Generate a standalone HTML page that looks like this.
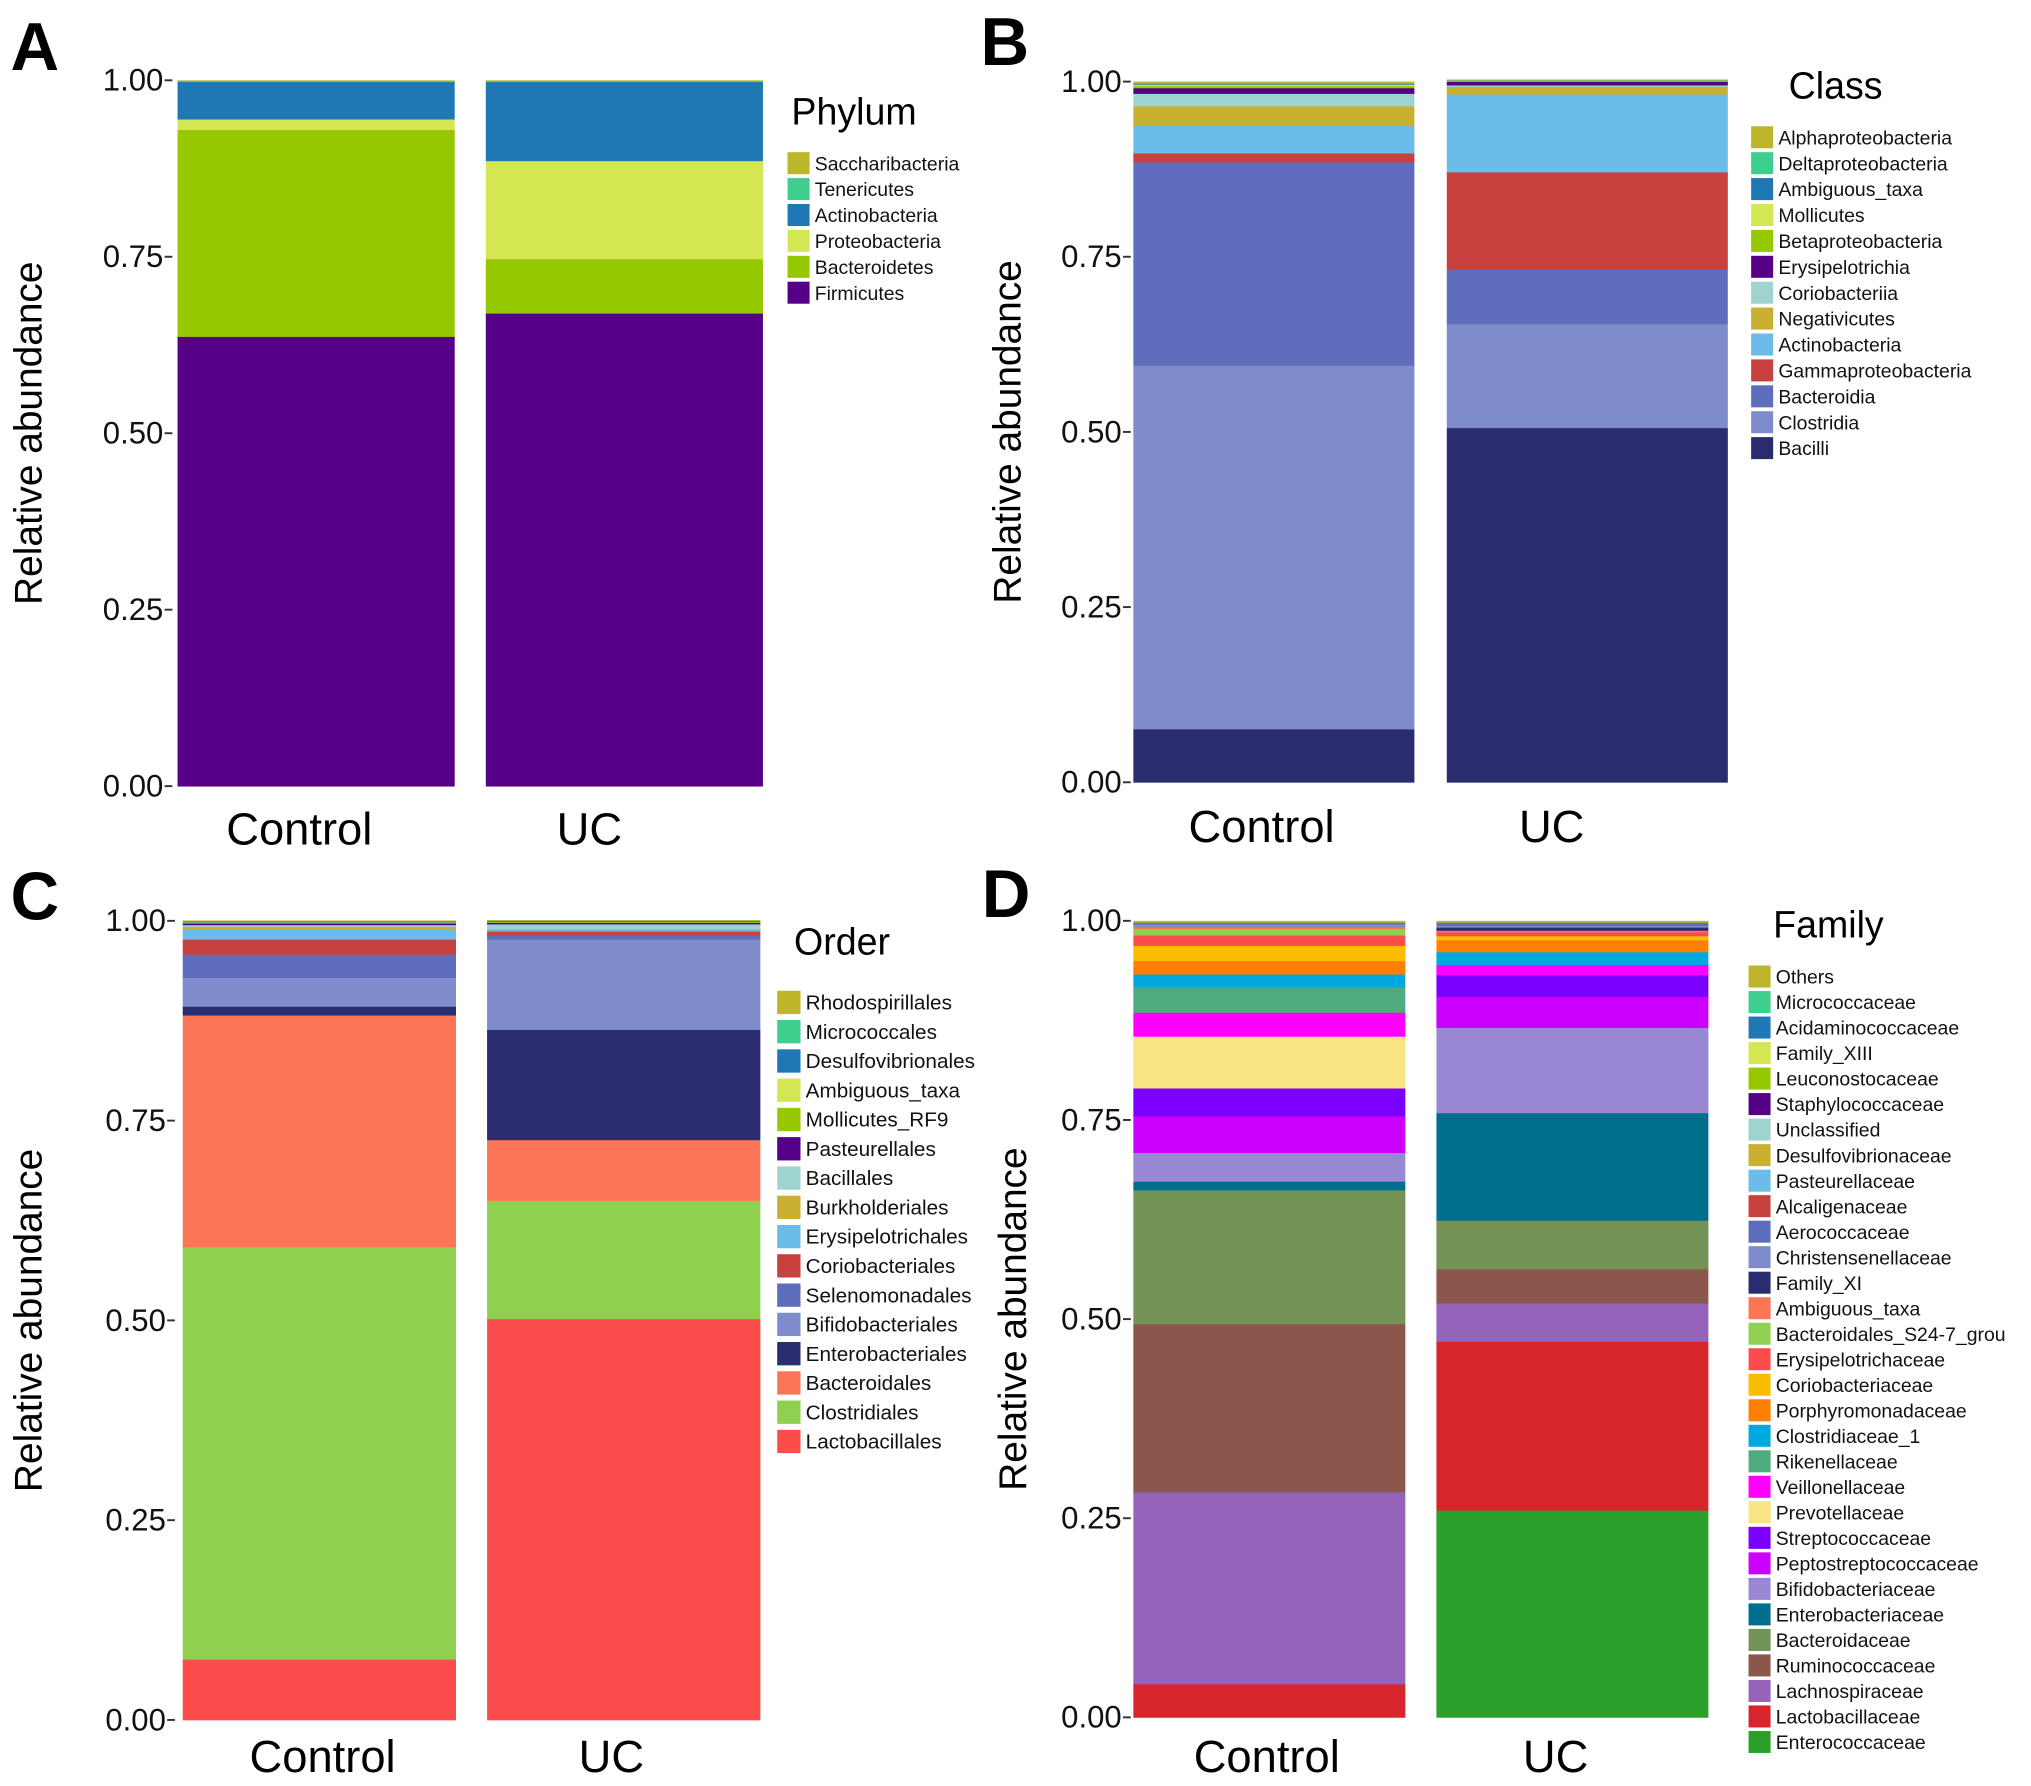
<!DOCTYPE html>
<html><head><meta charset="utf-8"><style>html,body{margin:0;padding:0;background:#fff}svg{display:block}text{font-family:"Liberation Sans",sans-serif}</style></head>
<body>
<svg id="fig" xmlns="http://www.w3.org/2000/svg" width="2031" height="1786" viewBox="0 0 1568 1379">
<rect width="1568" height="1379" fill="#fff"/>
</svg>
<script>
// ---- Panel A: Phylum ----
const phylumNames = ["Saccharibacteria","Tenericutes","Actinobacteria","Proteobacteria","Bacteroidetes","Firmicutes"];
const phylumControl = [0.001,0.001,0.053,0.015,0.293,0.637];
const phylumUC = [0.001,0.001,0.112,0.139,0.077,0.670];
const phylumColors = ["#bdb52a","#3ecf8e","#1f78b4","#d4e651","#96c800","#560087"];
// ---- Panel B: Class ----
const classNames = ["Alphaproteobacteria","Deltaproteobacteria","Ambiguous_taxa","Mollicutes","Betaproteobacteria","Erysipelotrichia","Coriobacteriia","Negativicutes","Actinobacteria","Gammaproteobacteria","Bacteroidia","Clostridia","Bacilli"];
const classControl = [0.002,0.001,0.001,0.002,0.003,0.008,0.018,0.028,0.039,0.013,0.290,0.519,0.076];
const classUC = [0.001,0.0005,0.0005,0.0005,0.0005,0.005,0.002,0.011,0.111,0.139,0.078,0.148,0.506];
const classColors = ["#bdb52a","#3ecf8e","#1f78b4","#d4e651","#96c800","#560087","#9ed3d0","#c9b030","#6cbcea","#c7413f","#5e6ebd","#7e8ccb","#2a2c70"];
// ---- Panel C: Order ----
const orderNames = ["Rhodospirillales","Micrococcales","Desulfovibrionales","Ambiguous_taxa","Mollicutes_RF9","Pasteurellales","Bacillales","Burkholderiales","Erysipelotrichales","Coriobacteriales","Selenomonadales","Bifidobacteriales","Enterobacteriales","Bacteroidales","Clostridiales","Lactobacillales"];
const orderControl = [0.0005,0.0005,0.001,0.0005,0.001,0.002,0.002,0.003,0.013,0.019,0.029,0.036,0.011,0.290,0.516,0.076];
const orderUC = [0.0005,0.0005,0.001,0.0005,0.0005,0.002,0.006,0.001,0.002,0.005,0.005,0.113,0.138,0.076,0.148,0.502];
const orderColors = ["#bdb52a","#3ecf8e","#1f78b4","#d4e651","#96c800","#560087","#9ed3d0","#c9b030","#6cbcea","#c7413f","#5e6ebd","#7e8ccb","#2a2c70","#fd7557","#8fd050","#fd4c4c"];
// ---- Panel D: Family ----
const familyNames = ["Others","Micrococcaceae","Acidaminococcaceae","Family_XIII","Leuconostocaceae","Staphylococcaceae","Unclassified","Desulfovibrionaceae","Pasteurellaceae","Alcaligenaceae","Aerococcaceae","Christensenellaceae","Family_XI","Ambiguous_taxa","Bacteroidales_S24-7_grou","Erysipelotrichaceae","Coriobacteriaceae","Porphyromonadaceae","Clostridiaceae_1","Rikenellaceae","Veillonellaceae","Prevotellaceae","Streptococcaceae","Peptostreptococcaceae","Bifidobacteriaceae","Enterobacteriaceae","Bacteroidaceae","Ruminococcaceae","Lachnospiraceae","Lactobacillaceae","Enterococcaceae"];
const familyControl = [0.002,0,0,0,0,0,0,0,0,0,0.002,0.004,0,0.002,0.008,0.013,0.019,0.017,0.016,0.032,0.030,0.065,0.035,0.046,0.036,0.011,0.168,0.211,0.241,0.042,0];
const familyUC = [0.002,0,0,0,0,0,0,0,0,0,0.004,0.002,0.004,0.002,0,0.005,0.005,0.015,0.016,0,0.013,0,0.027,0.039,0.107,0.135,0.061,0.043,0.048,0.212,0.260];
const familyColors = ["#bdb52a","#3ecf8e","#1f78b4","#d4e651","#96c800","#560087","#9ed3d0","#c9b030","#6cbcea","#c7413f","#5e6ebd","#7e8ccb","#2a2c70","#fd7557","#8fd050","#fd4c4c","#fbbd00","#ff8000","#00a8e0","#50aa80","#ff00ff","#fae383","#7a00ff","#cc00ff","#9b88d4","#006f8e","#739357","#8b574d","#9563ba","#d6262b","#2aa02b"];
const tickValues = [0,0.25,0.5,0.75,1];
const tickLabels = ["0.00","0.25","0.50","0.75","1.00"];
const groupLabels = ["Control","UC"];

const NS="http://www.w3.org/2000/svg";
const svg=document.getElementById('fig');
function mk(tag,attrs,parent){const e=document.createElementNS(NS,tag);for(const k in attrs)e.setAttribute(k,attrs[k]);(parent||svg).appendChild(e);return e;}

function panel(p){
  const g=mk('g',{});
  
  
  const yS=v=>p.y0-(p.y0-p.y1)*v;
  const lt=mk('text',{x:p.letterX,y:p.letterY,'font-size':52,'font-weight':'bold',fill:'#000'},g);
  lt.textContent=p.id;
  
  
  const yt=mk('text',{x:0,y:0,'font-size':30,fill:'#000','text-anchor':'middle',transform:`translate(${p.ytX},${(p.y0+p.y1)/2}) rotate(-90)`},g);
  yt.textContent='Relative abundance';
  
  
  tickValues.forEach((v,i)=>{
    const t=mk('text',{x:p.tickX,y:yS(v)+8,'font-size':24,fill:'#111','text-anchor':'end'},g);
    t.textContent=tickLabels[i];
    
    
    const l=mk('line',{x1:p.tickX+1,x2:p.tickX+7,y1:yS(v),y2:yS(v),stroke:'#333','stroke-width':1.5},g);
    
    
  });
  [p.control,p.uc].forEach((vals,bi)=>{
    const bx=p.barX[bi];
    let cum=0;
    for(let i=vals.length-1;i>=0;i--){
      const v=vals[i];if(v<=0)continue;
      const r=mk('rect',{x:bx,width:p.barW,y:yS(cum+v),height:yS(cum)-yS(cum+v)+0.3,fill:p.colors[i]},g);
      
      
      cum+=v;
    }
    const xl=mk('text',{x:p.xlX[bi],y:p.xlY,'font-size':35,fill:'#000','text-anchor':'middle'},g);
    xl.textContent=groupLabels[bi];
    
    
  });
  const ttl=mk('text',{x:p.titleX,y:p.legTitleY,'font-size':29,fill:'#000'},g);
  ttl.textContent=p.title;
  
  
  p.names.forEach((n,i)=>{
    const y=p.legY+i*p.legStep;
    const b=mk('rect',{x:p.legX,y:y-p.box/2,width:p.box,height:p.box,fill:p.colors[i]},g);
    
    
    const t=mk('text',{x:p.legX+p.box+4,y:y+5.5,'font-size':p.fs,fill:'#111'},g);
    t.textContent=n;
    
    
  });
}
panel({id:'A',title:'Phylum',names:phylumNames,control:phylumControl,uc:phylumUC,colors:phylumColors,y0:607,y1:62,barX:[137,375],barW:214,xlX:[231,455],tickX:126,ytX:32,letterX:8,letterY:54,xlY:652,legX:608,titleX:611,legTitleY:96,legY:126,legStep:20,box:17,fs:15});
panel({id:'B',title:'Class',names:classNames,control:classControl,uc:classUC,colors:classColors,y0:604,y1:63,barX:[875,1117],barW:217,xlX:[974,1198],tickX:866,ytX:788,letterX:757,letterY:50,xlY:650,legX:1352,titleX:1381,legTitleY:76,legY:106,legStep:20,box:17,fs:15});
panel({id:'C',title:'Order',names:orderNames,control:orderControl,uc:orderUC,colors:orderColors,y0:1328,y1:711,barX:[141,376],barW:211,xlX:[249,472],tickX:128,ytX:32,letterX:8,letterY:710,xlY:1368,legX:600,titleX:613,legTitleY:737,legY:774,legStep:22.6,box:18,fs:16});
panel({id:'D',title:'Family',names:familyNames,control:familyControl,uc:familyUC,colors:familyColors,y0:1326,y1:711,barX:[875,1109],barW:210,xlX:[978,1201],tickX:866,ytX:792,letterX:758,letterY:708,xlY:1368,legX:1350,titleX:1369,legTitleY:724,legY:754,legStep:19.7,box:17,fs:15});
</script>
</body></html>
